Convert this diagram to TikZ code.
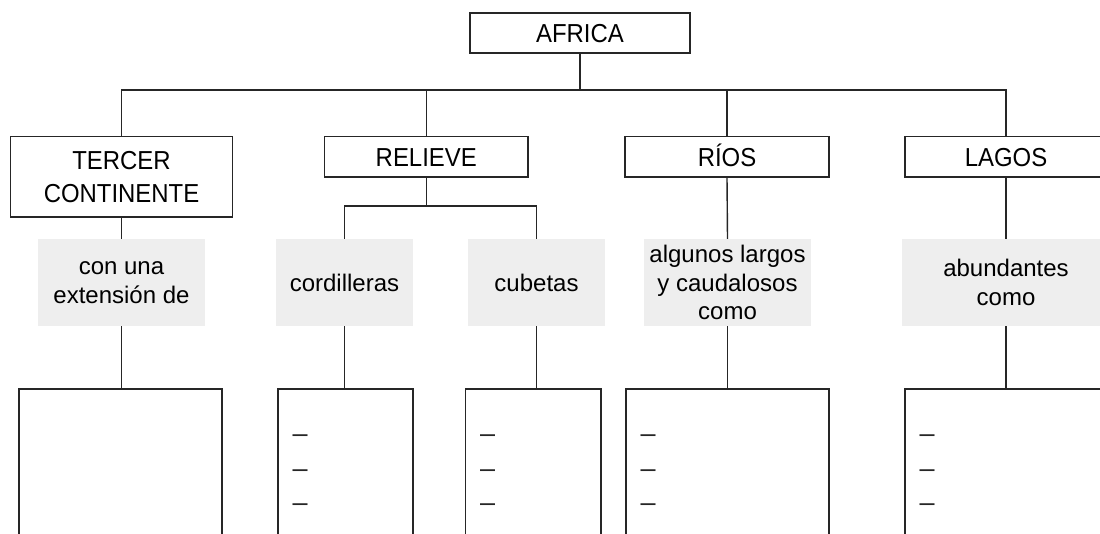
\documentclass[tikz,border=0pt]{standalone}
\usepackage{fontspec}
\setmainfont{Liberation Sans}
\newfontfamily\capfont[FakeStretch=0.92]{Liberation Sans}
\definecolor{grayfill}{HTML}{EEEEEE}
\definecolor{linecol}{HTML}{262626}
\begin{document}
\begin{tikzpicture}[x=1pt,y=-1pt,
  conn/.style={draw=linecol, line width=1.4pt},
  capbox/.style={draw=linecol, line width=1.4pt, fill=white, inner sep=0pt, align=center, font=\capfont\fontsize{26}{33}\selectfont},
  oneline/.style={text height=18.6pt, text depth=0pt},
  graybox/.style={fill=grayfill, inner sep=0pt, align=center, font=\fontsize{24}{28.5}\selectfont, minimum height=87pt},
  listbox/.style={draw=linecol, line width=1.4pt, inner sep=0pt, minimum height=160pt},
  dashmark/.style={inner sep=0pt, font=\fontsize{27}{30}\selectfont, anchor=base west, text=linecol}]
\useasboundingbox (0,0) rectangle (1100,534);
\clip (0,0) rectangle (1100,534);
% top level
\node[capbox, oneline, minimum width=220pt, minimum height=40pt] (africa) at (580,33) {AFRICA};
% second level
\node[capbox, minimum width=222pt, minimum height=80.5pt] (tercer) at (121.5,176.75) {TERCER\\CONTINENTE};
\node[capbox, oneline, minimum width=203.5pt, minimum height=40.5pt] (relieve) at (426.25,156.75) {RELIEVE};
\node[capbox, oneline, minimum width=204pt, minimum height=40.5pt] (rios) at (727,156.75) {RÍOS};
\node[capbox, oneline, minimum width=202pt, minimum height=40.5pt] (lagos) at (1006,156.75) {LAGOS};
% gray labels
\node[graybox, minimum width=167pt] (g1) at (121.5,282.5) {con una\\extensión de};
\node[graybox, minimum width=137pt] (gcord) at (344.5,282.5) {cordilleras};
\node[graybox, minimum width=137pt] (gcub) at (536.5,282.5) {cubetas};
\node[graybox, minimum width=167pt] (grios) at (727.5,282.5) {algunos largos\\y caudalosos\\como};
\node[graybox, minimum width=208pt] (glagos) at (1006,282.5) {abundantes\\como};
% list boxes
\node[listbox, minimum width=203pt] (b1) at (120.5,469) {};
\node[listbox, minimum width=135pt] (bcord) at (345.5,469) {};
\node[listbox, minimum width=135.5pt] (bcub) at (533.25,469) {};
\node[listbox, minimum width=203pt] (brios) at (727.5,469) {};
\node[listbox, minimum width=202pt] (blagos) at (1006,469) {};
% dashes
\foreach \b in {bcord,bcub,brios,blagos}{
  \foreach \k in {0,1,2}{
    \node[dashmark] (\b-d\k) at ([xshift=15pt, yshift={-54.6pt-34.2pt*\k}]\b.north west) {–};
  }
}
% connectors
\coordinate (bus) at (0,90);
\coordinate (sub) at (0,206);
\draw[conn] (africa.south) -- (africa.south |- bus);
\draw[conn] (tercer.north) |- (lagos.north |- bus) -- (lagos.north);
\draw[conn] (relieve.north) -- (relieve.north |- bus);
\draw[conn] (rios.north) -- (rios.north |- bus);
\draw[conn] (tercer.south) -- (g1.north);
\draw[conn] (g1.south) -- (g1.south |- b1.north);
\draw[conn] (relieve.south) -- (relieve.south |- sub);
\draw[conn] (gcord.north) |- (gcub.north |- sub) -- (gcub.north);
\draw[conn] (gcord.south) -- (gcord.south |- bcord.north);
\draw[conn] (gcub.south) -- (gcub.south |- bcub.north);
\draw[conn] (rios.south) -- (grios.north);
\draw[conn] (grios.south) -- (grios.south |- brios.north);
\draw[conn] (lagos.south) -- (glagos.north);
\draw[conn] (glagos.south) -- (glagos.south |- blagos.north);
\end{tikzpicture}
\end{document}
